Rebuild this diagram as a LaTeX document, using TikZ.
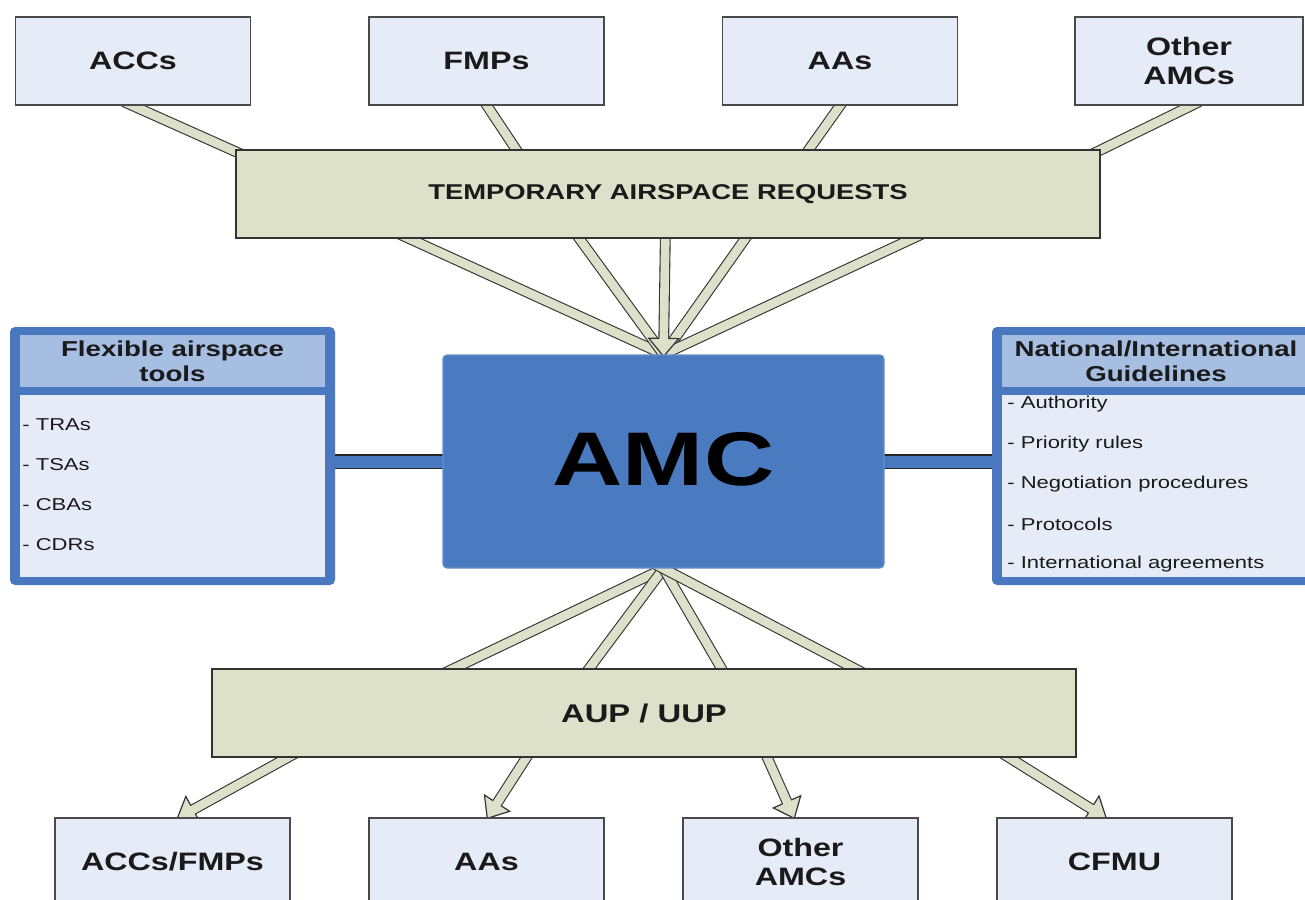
\documentclass[tikz,border=0pt]{standalone}
\usepackage{fontspec}
\setmainfont{Liberation Sans}[FakeStretch=1.28]
\usetikzlibrary{calc}
\definecolor{boxfill}{HTML}{E6ECF7}
\definecolor{boxedge}{HTML}{4A4A4A}
\definecolor{bandc}{HTML}{DDE1CA}
\definecolor{edgec}{HTML}{333333}
\definecolor{amcblue}{HTML}{4A7ABF}
\definecolor{headblue}{HTML}{A6BEE1}
\definecolor{panelblue}{HTML}{4A78C0}
\definecolor{txt}{HTML}{1A1A1A}
\pgfdeclarelayer{back}
\pgfsetlayers{back,main}
\tikzset{
  topbox/.style={draw=boxedge, line width=0.7pt, fill=boxfill, minimum width=117.5pt, minimum height=44pt, inner sep=0pt, align=center, text=txt, font=\bfseries\fontsize{12.6}{14.5}\selectfont},
  barbox/.style={draw=edgec, line width=0.7pt, fill=bandc, minimum width=432pt, minimum height=44pt, inner sep=0pt, text=txt},
  bandouter/.style={line width=5.4pt, draw=edgec},
  bandinner/.style={line width=4.3pt, draw=bandc},
  bandline/.style={bandouter, postaction={bandinner}},
  headtip/.style={fill=bandc, draw=edgec, line width=0.6pt, line join=miter},
  hbar/.style={line width=7.5pt, draw=black!85, postaction={draw=panelblue, line width=6pt}},
  panel/.style={fill=panelblue, rounded corners=2.5pt, inner sep=0pt},
  head/.style={fill=headblue, inner sep=0pt, align=center, text=txt, font=\bfseries\fontsize{10.8}{12.5}\selectfont},
  body/.style={fill=boxfill, inner sep=0pt},
  item/.style={anchor=west, inner sep=0pt, text=txt, font=\fontsize{8.6}{10}\selectfont},
  amcbox/.style={fill=amcblue, draw=amcblue!85!white, line width=0.6pt, rounded corners=2pt, minimum width=220.5pt, minimum height=106.5pt, inner sep=0pt, text=black, font=\bfseries\fontsize{38}{40}\selectfont}
}
% arrow band from #1 to #2 with an outlined head; #3 = name of head base point
\newcommand\bandarrowto[3]{%
  \coordinate (#3) at ($(#2)!9pt!(#1)$);
  \draw[bandouter] ($(#1)!-6pt!(#2)$) -- (#3);
  \filldraw[headtip] (#2) -- ($(#3)!7.5pt!90:(#2)$) -- ($(#3)!7.5pt!-90:(#2)$) -- cycle;
  \draw[bandinner] ($(#1)!-6pt!(#2)$) -- ($(#3)!1pt!(#2)$);
}
\begin{document}
\begin{tikzpicture}[x=0.5pt,y=-0.5pt]
\useasboundingbox (0,0) rectangle (1305,899);

% top row
\node[topbox] (acc) at (133,61) {ACCs};
\node[topbox] (fmp) at (486.5,61) {FMPs};
\node[topbox] (aa) at (840,61) {AAs};
\node[topbox, minimum width=114pt] (oamc) at (1189,61) {Other\\AMCs};

% request bar
\node[barbox, font=\bfseries\fontsize{10.7}{12}\selectfont] (tar) at (668,194) {TEMPORARY AIRSPACE REQUESTS};

% centre
\node[amcbox] (amc) at (663.5,461.5) {\raisebox{2.5pt}{AMC}};

% left panel
\node[panel, minimum width=162.5pt, minimum height=129pt] (fat) at (172.5,456) {};
\node[head, minimum width=152.5pt, minimum height=26pt] (fath) at (172.5,361) {Flexible airspace\\tools};
\node[body, minimum width=152.5pt, minimum height=91pt] (fatb) at (172.5,486) {};
\node[item] (fat1) at (22,425) {- TRAs};
\node[item] (fat2) at (22,465) {- TSAs};
\node[item] (fat3) at (22,505) {- CBAs};
\node[item] (fat4) at (22,545) {- CDRs};

% right panel
\node[panel, minimum width=164pt, minimum height=129pt] (gl) at (1156,456) {};
\node[head, minimum width=154pt, minimum height=26pt] (glh) at (1156,361) {National/International\\Guidelines};
\node[body, minimum width=154pt, minimum height=91pt] (glb) at (1156,486) {};
\node[item] (gl1) at (1007,404) {- Authority};
\node[item] (gl2) at (1007,444) {- Priority rules};
\node[item] (gl3) at (1007,484) {- Negotiation procedures};
\node[item] (gl4) at (1007,524) {- Protocols};
\node[item] (gl5) at (1007,564) {- International agreements};

% plan bar
\node[barbox, font=\bfseries\fontsize{12.8}{14}\selectfont] (aup) at (644,713) {AUP / UUP};

% bottom row
\node[topbox] (b1) at (172.5,862) {ACCs/FMPs};
\node[topbox] (b2) at (486.5,862) {AAs};
\node[topbox] (b3) at (800.5,862) {Other\\AMCs};
\node[topbox] (b4) at (1114.5,862) {CFMU};

\begin{pgfonlayer}{back}
  % panels to AMC
  \draw[hbar] ($(fat.east |- amc.west)+(-4,0)$) -- ($(amc.west)+(4,0)$);
  \draw[hbar] ($(amc.east)+(-4,0)$) -- ($(gl.west |- amc.east)+(4,0)$);

  % sources to requests
  \draw[bandline] ($(acc.south west)+(109,-4)$) -- ($(tar.north west)+(13,8)$);
  \draw[bandline] ($(fmp.south west)+(116,-4)$) -- ($(tar.north west)+(286,8)$);
  \draw[bandline] ($(aa.south west)+(121,-4)$) -- ($(tar.north west)+(568,8)$);
  \draw[bandline] ($(oamc.south west)+(125,-4)$) -- ($(tar.north east)+(-15,8)$);

  % requests to AMC
  \coordinate (amctip) at ($(amc.north)+(0,2)$);
  \foreach \dx [count=\i] in {174,344,510,677} {
    \coordinate (ft\i) at ($(tar.south west)+(\dx,0)$);
    \draw[bandline] ($(ft\i)!-6pt!(amctip)$) -- ($(amctip)+(0,-2)$);
  }
  \coordinate (ftc) at ($(tar.south west)+(430,0)$);
  \bandarrowto{ftc}{amctip}{hbc}

  % AMC to plan
  \coordinate (amcb) at (amc.south);
  \foreach \dx [count=\i] in {243,378,510,643} {
    \coordinate (fb\i) at ($(aup.north west)+(\dx,0)$);
    \draw[bandline] ($(amcb)!-6pt!(fb\i)$) -- ($(fb\i)!-6pt!(amcb)$);
  }
\end{pgfonlayer}

% plan to receivers
\foreach \a/\b/\n in {76/123/b1, 315/119/b2, 556/112/b3, 798/110/b4} {
  \coordinate (s\n) at ($(aup.south west)+(\a,0)$);
  \coordinate (e\n) at ($(\n.north west)+(\b,1)$);
}
\begin{pgfonlayer}{back}
  \bandarrowto{sb1}{eb1}{hb1}
  \bandarrowto{sb2}{eb2}{hb2}
  \bandarrowto{sb3}{eb3}{hb3}
  \bandarrowto{sb4}{eb4}{hb4}
\end{pgfonlayer}
\end{tikzpicture}
\end{document}
